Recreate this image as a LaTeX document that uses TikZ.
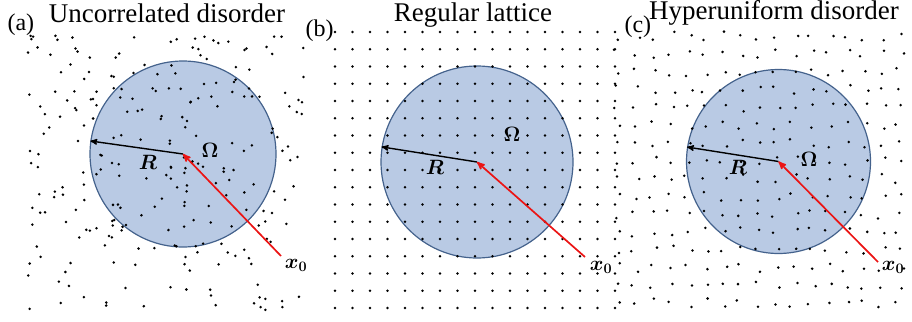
\documentclass[tikz,border=0pt]{standalone}
\usepackage{fontspec}
\usepackage{amsmath,bm}
\setmainfont{Liberation Serif}
\usetikzlibrary{calc,arrows}
\definecolor{diskfill}{RGB}{185,202,228}
\definecolor{diskedge}{RGB}{68,98,140}
\definecolor{arrred}{RGB}{235,20,20}

\begin{document}
\begin{tikzpicture}[x=1pt,y=-1pt,
	disk/.style={circle,draw=diskedge,line width=1.2pt,fill=diskfill,inner sep=0pt},
	title/.style={anchor=base,font=\fontsize{27}{30}\selectfont},
	plabel/.style={anchor=base west,font=\fontsize{24}{28}\selectfont},
	rarrow/.style={line width=1.4pt,->,>=stealth'},
	xarrow/.style={line width=1.7pt,color=arrred,->,>=stealth'},
	mlabel/.style={font=\fontsize{22}{24}\selectfont}]
	\useasboundingbox (0,0) rectangle (912,321);
	% panel (a)
	\node[disk,minimum size=186pt] (Da) at (183,154) {};
	\pgfmathsetseed{11}
	\foreach \i in {1,...,250}{
		\pgfmathsetmacro\px{28+278*rnd}
		\pgfmathsetmacro\py{35+275*rnd}
		\fill (\px,\py) circle (1.4pt);
	}
	\node[title] (ta) at (167,23) {Uncorrelated disorder};
	\node[plabel] (la) at (4,31) {(a)};
	% panel (b)
	\node[disk,minimum size=192pt] (Db) at (477,162) {};
	\foreach \i in {0,...,16}
		\foreach \j in {0,...,16}
			\fill (335+17.5*\i,32+17.25*\j) circle (1.4pt);
	\node[title] (tb) at (473,22) {Regular lattice};
	\node[plabel] (lb) at (302,37) {(b)};
	% panel (c)
	\node[disk,minimum size=184pt] (Dc) at (778.5,161.5) {};
	\pgfmathsetseed{5}
	\foreach \i in {0,...,16}
		\foreach \j in {0,...,15}{
			\pgfmathsetmacro\px{618+17.6*\i+9*(rnd-0.5)}
			\pgfmathsetmacro\py{36+17.8*\j+9*(rnd-0.5)}
			\fill (\px,\py) circle (1.4pt);
		}
	\node[title] (tc) at (774,20) {Hyperuniform disorder};
	\node[plabel] (lc) at (621,33) {(c)};
	% radii and x0
	\draw[rarrow] (Da.center) -- (Da.172);
	\draw[rarrow] (Db.center) -- (Db.171);
	\draw[rarrow] (Dc.center) -- (Dc.171);
	\node[mlabel] (Ra) at (148,162) {$\bm{R}$};
	\node[mlabel] (Rb) at (435,167) {$\bm{R}$};
	\node[mlabel] (Rc) at (738,167) {$\bm{R}$};
	\node[mlabel] (Wa) at (210,150) {$\bm{\Omega}$};
	\node[mlabel] (Wb) at (512,134) {$\bm{\Omega}$};
	\node[mlabel] (Wc) at (809,159) {$\bm{\Omega}$};
	\node[mlabel] (Xa) at (296,265) {$\bm{x_0}$};
	\node[mlabel] (Xb) at (601,267) {$\bm{x_0}$};
	\node[mlabel] (Xc) at (893,267) {$\bm{x_0}$};
	\coordinate (Sa) at (281,256);
	\coordinate (Sb) at (585,257);
	\coordinate (Sc) at (878,262);
	\draw[xarrow] (Sa) -- (Da.center);
	\draw[xarrow] (Sb) -- (Db.center);
	\draw[xarrow] (Sc) -- (Dc.center);
\end{tikzpicture}
\end{document}
